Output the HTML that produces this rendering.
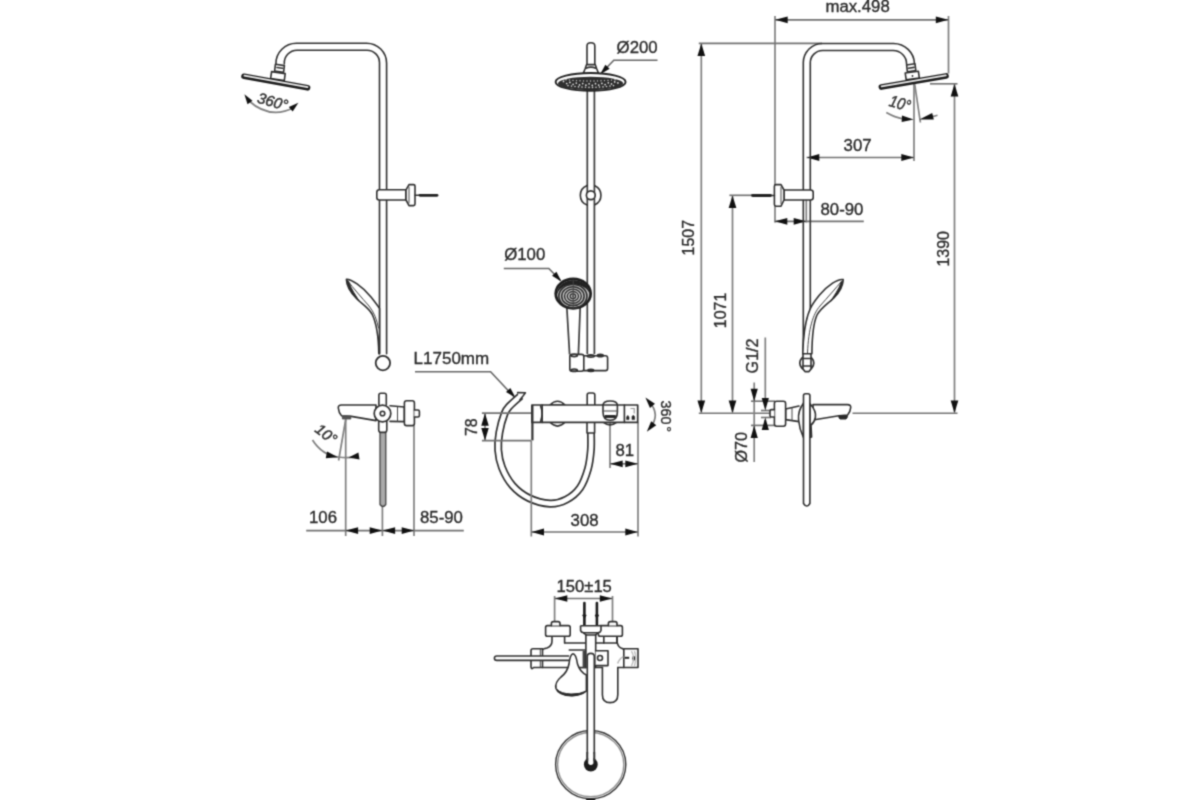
<!DOCTYPE html>
<html lang="en"><head><meta charset="utf-8"><title>Shower system dimensions</title>
<style>
html,body{margin:0;padding:0;background:#fff;}
body{width:1200px;height:800px;overflow:hidden;}
svg{display:block;}
.o{fill:none;stroke:#303030;stroke-width:1.6;stroke-linecap:round;stroke-linejoin:round;}
.w{fill:#fff;stroke:#303030;stroke-width:1.6;stroke-linecap:round;stroke-linejoin:round;}
.k{fill:#2a2a2a;stroke:#2a2a2a;stroke-width:1;stroke-linejoin:round;}
.g{fill:#aaa;stroke:#444;stroke-width:1.3;stroke-linejoin:round;}
.n{fill:none;stroke:#444;stroke-width:1;stroke-linecap:round;}
.d{fill:none;stroke:#808080;stroke-width:1.7;}
.h{fill:none;stroke:#727272;stroke-width:1.65;}
.l{fill:none;stroke:#666;stroke-width:1.6;}
.a{fill:#111;stroke:none;}
.t{font-family:"Liberation Sans",Arial,sans-serif;font-size:16.8px;fill:#2a2a2a;stroke:#2a2a2a;stroke-width:0.35px;}
.i{font-family:"Liberation Sans",Arial,sans-serif;font-size:15px;font-style:italic;fill:#333;stroke:#333;stroke-width:0.5px;}
</style></head>
<body>
<svg width="1200" height="800" viewBox="0 0 1200 800">
<defs><filter id="soft" x="0" y="0" width="1200" height="800" filterUnits="userSpaceOnUse" color-interpolation-filters="sRGB"><feConvolveMatrix order="3" kernelMatrix="0.0361 0.1178 0.0361 0.1178 0.3844 0.1178 0.0361 0.1178 0.0361" divisor="1" edgeMode="duplicate" preserveAlpha="false"/></filter></defs>
<rect width="1200" height="800" fill="#fff"/>
<g filter="url(#soft)">
<g id="view-left">
<path class="o" d="M386.6 353.8 V63.2 A20 20 0 0 0 366.6 43.2 H296.5 A20.5 20.5 0 0 0 275.9 63.9" />
<path class="o" d="M379.5 353.8 V62.7 A12.5 12.5 0 0 0 367 50.2 H297 A12.8 12.8 0 0 0 284.3 63.9" />
<path class="w" d="M275.4 64.3 L284.4 65.6 L283.6 72.2 L274.6 71 Z" />
<path class="o" d="M277 67.5 L282.5 68.3" />
<path class="w" d="M271.6 71.6 L285.2 73.6 L284.3 80.6 L270.6 78.6 Z" />
<g transform="rotate(10.3 241.5 76)"><rect x="241.2" y="73.0" width="70.2" height="5.6" rx="2.8" fill="#1c1c1c"/><rect x="243.4" y="74.3" width="66" height="1.7" rx="0.85" fill="#eee"/></g>
<path class="d" d="M248.5 100.5 Q270 120 294 107.5" />
<polygon class="a" points="244.40,94.20 252.48,100.81 247.50,104.17"/>
<polygon class="a" points="298.40,102.80 292.67,111.53 288.81,106.93"/>
<text class="i" x="0" y="0" text-anchor="start" transform="translate(256.4 102.6) rotate(15) scale(1 1)" >360°</text>
<path class="w" d="M379.4 189.8 H406 V200 H379.4 Q376.8 200 376.8 197.5 V192.3 Q376.8 189.8 379.4 189.8 Z" />
<path class="w" d="M406 189.8 L409 184.6 H413.5 Q415 184.6 415 186 V204 Q415 205.6 413.5 205.6 H409 L406 200 Z" />
<path class="n" d="M409 187 V203" />
<line class="o" x1="415" y1="195.3" x2="423" y2="195.3"/>
<line x1="420" y1="195.3" x2="437" y2="195.3" stroke="#222" stroke-width="2.8" stroke-linecap="round"/>
<path class="w" d="M346.4 279.4 C351 279 362 286 371 297 C375 302 378 306 379.5 308.5 L379.5 353.8 L378.8 353.8 C378.6 340 377.5 325 372 314 C368 307 362 304 357 299 C351 293 346.5 285 346.4 279.4 Z" />
<path class="n" d="M347.5 280.5 C353 288 362 298 369 306 C374 312 377 320 378.5 328" />
<path class="k" d="M346.8 281 C348 288 353 296 359.5 301.5 C356 296 351 289 348.5 281.5 Z" />
<circle class="w" cx="382.9" cy="363.1" r="7.2" style="stroke-width:1.8"/>
</g>
<g id="mixer-left">
<line class="d" x1="345.7" y1="419" x2="345.7" y2="536"/>
<line class="d" x1="414.0" y1="425.6" x2="414.0" y2="536"/>
<line class="d" x1="382.4" y1="507" x2="382.4" y2="536"/>
<line class="h" x1="306.2" y1="530.6" x2="463.8" y2="530.6"/>
<polygon class="a" points="345.60,530.60 358.10,527.20 358.10,534.00"/>
<polygon class="a" points="382.20,530.60 369.70,534.00 369.70,527.20"/>
<polygon class="a" points="382.60,530.60 395.10,527.20 395.10,534.00"/>
<polygon class="a" points="414.20,530.60 401.70,534.00 401.70,527.20"/>
<text class="t" x="0" y="0" text-anchor="start" transform="translate(309 523.1) rotate(0) scale(1 1)" >106</text>
<text class="t" x="0" y="0" text-anchor="start" transform="translate(420 523.1) rotate(0) scale(1 1)" >85-90</text>
<path class="g" d="M380.0 432.5 V504.5 Q382.9 508.5 385.8 504.5 V432.5 Z" />
<path class="w" d="M378.9 405 V395 Q378.9 393.2 380.8 393.2 H384.4 Q386.3 393.2 386.3 395 V405" />
<path class="w" d="M378.7 421 V430 Q378.7 432.3 380.9 432.3 H384.6 Q386.8 432.3 386.8 430 V421" />
<path class="w" d="M390 405.8 L404.4 407 V421.6 L390 421.4" />
<path class="n" d="M397.5 407 V421.4" />
<rect class="w" x="404.4" y="400.8" width="10" height="24.8" rx="2.2"/>
<path class="w" d="M414.4 410 H418 Q419.4 410 419.4 411.4 V415.6 Q419.4 417 418 417 H414.4" />
<path class="w" d="M376 405 H341.5 Q338 405 338.3 408 Q338.8 413 341.5 415.7 L351.3 416.4 L376 420.6 Z" />
<path d="M342.4 416 H350.8 V419 H342.4 Z" fill="#555" stroke="#444" stroke-width="0.8"/>
<circle class="w" cx="382.5" cy="413.5" r="8.3" style="stroke-width:1.7"/>
<circle class="o" cx="382.5" cy="413.5" r="2.3"/>
<line class="d" x1="345.7" y1="419.5" x2="338.6" y2="460.5"/>
<path class="d" d="M312.5 440 Q322 455 338 457 Q349 458.5 357 456.5" />
<polygon class="a" points="338.00,457.20 325.77,458.29 327.07,451.61"/>
<polygon class="a" points="348.60,457.60 358.42,452.50 359.52,459.41"/>
<text class="i" x="0" y="0" text-anchor="start" style="font-size:15px" transform="translate(314 431) rotate(38) scale(1 1)" >10°</text>
</g>
<g id="view-mid">
<path d="M587.3 66 V354 M594.4 66 V354" fill="none" stroke="#3c3c3c" stroke-width="1.7"/>
<path class="w" d="M587.0 66 V46 Q587.0 42.8 590.9 42.8 Q594.8 42.8 594.8 46 V66" />
<path class="w" d="M586.6 64.6 H595.2 L596.6 68.5 L598.6 73.5 H583.2 L585.2 68.5 Z" />
<path class="o" d="M586 68.2 Q590.9 66 595.8 68.2" />
<ellipse cx="590.6" cy="81.9" rx="35" ry="8.9" fill="#fff" stroke="#222" stroke-width="1.9"/>
<ellipse cx="590.6" cy="83.4" rx="32.6" ry="6.6" fill="#2e2e2e"/>
<g fill="#e8e8e8"><circle cx="563.5" cy="81.4" r="0.85"/><circle cx="566.7" cy="83.5" r="0.85"/><circle cx="569.9" cy="82.4" r="0.85"/><circle cx="573.1" cy="84.3" r="0.85"/><circle cx="576.3" cy="83.1" r="0.85"/><circle cx="579.5" cy="84.9" r="0.85"/><circle cx="582.7" cy="83.6" r="0.85"/><circle cx="585.9" cy="85.2" r="0.85"/><circle cx="589.1" cy="83.8" r="0.85"/><circle cx="592.3" cy="85.3" r="0.85"/><circle cx="595.5" cy="83.7" r="0.85"/><circle cx="598.7" cy="85.1" r="0.85"/><circle cx="601.9" cy="83.4" r="0.85"/><circle cx="605.1" cy="84.6" r="0.85"/><circle cx="608.3" cy="82.8" r="0.85"/><circle cx="611.5" cy="83.9" r="0.85"/><circle cx="614.7" cy="81.9" r="0.85"/><circle cx="617.9" cy="82.9" r="0.85"/></g>
<g fill="#d8d8d8"><circle cx="568.0" cy="85.6" r="0.8"/><circle cx="571.5" cy="86.1" r="0.8"/><circle cx="575.0" cy="86.5" r="0.8"/><circle cx="578.5" cy="86.9" r="0.8"/><circle cx="582.0" cy="87.1" r="0.8"/><circle cx="585.5" cy="87.3" r="0.8"/><circle cx="589.0" cy="87.4" r="0.8"/><circle cx="592.5" cy="87.4" r="0.8"/><circle cx="596.0" cy="87.3" r="0.8"/><circle cx="599.5" cy="87.1" r="0.8"/><circle cx="603.0" cy="86.9" r="0.8"/><circle cx="606.5" cy="86.5" r="0.8"/><circle cx="610.0" cy="86.1" r="0.8"/><circle cx="613.5" cy="85.6" r="0.8"/></g>
<g fill="#d8d8d8"><circle cx="566.0" cy="79.8" r="0.7"/><circle cx="569.5" cy="80.1" r="0.7"/><circle cx="573.0" cy="80.4" r="0.7"/><circle cx="576.5" cy="80.6" r="0.7"/><circle cx="580.0" cy="80.8" r="0.7"/><circle cx="583.5" cy="80.9" r="0.7"/><circle cx="587.0" cy="81.0" r="0.7"/><circle cx="590.5" cy="81.0" r="0.7"/><circle cx="594.0" cy="81.0" r="0.7"/><circle cx="597.5" cy="80.9" r="0.7"/><circle cx="601.0" cy="80.8" r="0.7"/><circle cx="604.5" cy="80.6" r="0.7"/><circle cx="608.0" cy="80.4" r="0.7"/><circle cx="611.5" cy="80.1" r="0.7"/><circle cx="615.0" cy="79.8" r="0.7"/></g>
<path class="l" d="M657.5 60.3 H613.8 L601 73.5" />
<polygon class="a" points="600.20,74.30 605.34,64.66 609.65,68.83"/>
<text class="t" x="0" y="0" text-anchor="start" transform="translate(616.6 52.8) rotate(0) scale(1 1)" >Ø200</text>
<path class="o" d="M587.2 185.4 A10.5 10.5 0 0 0 587.2 205.1" />
<path class="o" d="M594.8 185.7 A10.5 10.5 0 0 1 594.8 204.8" />
<circle class="w" cx="590.8" cy="195.3" r="4.4" style="stroke-width:1.7"/>
<path d="M566.8 307 L569.6 354.4 M580.2 307 L578.4 354.4" fill="none" stroke="#3c3c3c" stroke-width="1.7"/>
<ellipse cx="573.2" cy="293.6" rx="17.5" ry="14.7" fill="#c4c4c4" stroke="#1e1e1e" stroke-width="2.7"/>
<path d="M556.5 296 Q557 281.5 573.2 280 Q589 281 590 295 Q587 285 573 284.5 Q559 285 556.5 296 Z" fill="#222"/>
<ellipse cx="572.9" cy="296.2" rx="14" ry="11.76" fill="none" stroke="#2a2a2a" stroke-width="1.6"/>
<ellipse cx="572.9" cy="296.2" rx="11.2" ry="9.41" fill="none" stroke="#2a2a2a" stroke-width="1.5"/>
<ellipse cx="572.9" cy="296.2" rx="8.4" ry="7.06" fill="none" stroke="#2a2a2a" stroke-width="1.4"/>
<ellipse cx="572.9" cy="296.2" rx="5.6" ry="4.70" fill="none" stroke="#2a2a2a" stroke-width="1.3"/>
<ellipse cx="572.9" cy="296.2" rx="2.8" ry="2.35" fill="none" stroke="#2a2a2a" stroke-width="1.2"/>
<circle cx="572.9" cy="296.2" r="0.9" fill="#444"/>
<line class="n" x1="573.2" y1="280" x2="573.2" y2="308"/>
<path class="l" d="M503.8 268.5 H548.8 L560.5 280.5" />
<polygon class="a" points="561.40,281.40 552.04,275.77 556.43,271.67"/>
<text class="t" x="0" y="0" text-anchor="start" transform="translate(504.2 260.2) rotate(0) scale(1 1)" >Ø100</text>
<path class="w" d="M569.8 356.5 Q569.8 354.4 572 354.4 H581.5 Q583.8 354.4 583.8 356.5 V369 Q583.8 371.2 581.5 371.2 H572 Q569.8 371.2 569.8 369 Z" />
<path class="w" d="M583.8 355.8 H605.5 Q607.6 355.8 607.6 358 V368.4 Q607.6 370.6 605.5 370.6 H583.8 Z" />
<ellipse cx="574.2" cy="355.5" rx="3.2" ry="1.2" class="o"/>
<ellipse cx="574.2" cy="370.2" rx="3.2" ry="1.2" class="o"/>
<ellipse cx="590.8" cy="370.4" rx="3.6" ry="1.4" class="k"/>
<ellipse cx="590.8" cy="356" rx="3.6" ry="1.2" class="o"/>
<ellipse cx="600.3" cy="355.6" rx="3" ry="1.2" class="o"/>
</g>
<g id="mixer-front">
<path class="l" d="M415 371.8 H490.6 L514 396.8" />
<polygon class="a" points="515.40,397.60 506.00,392.05 510.35,387.92"/>
<text class="t" x="0" y="0" text-anchor="start" style="font-size:17px" transform="translate(413.6 364.2) rotate(0) scale(1 1)" >L1750mm</text>
<path d="M520.5 396.0 C518.72 397.63 512.45 402.88 509.8 405.8 C507.15 408.72 506.33 409.05 504.6 413.5 C502.87 417.95 500.47 426.42 499.4 432.5 C498.33 438.58 497.77 444.17 498.2 450 C498.63 455.83 499.62 461.58 502 467.5 C504.38 473.42 508.03 480.42 512.5 485.5 C516.97 490.58 522.55 494.98 528.8 498 C535.05 501.02 543.75 503.33 550 503.6 C556.25 503.87 561.30 502.23 566.3 499.6 C571.30 496.97 576.38 492.93 580 487.8 C583.62 482.67 586.18 475.10 588 468.8 C589.82 462.50 590.40 456.00 590.9 450 C591.40 444.00 590.98 435.67 591 432.8" fill="none" stroke="#303030" stroke-width="8.1" stroke-linecap="butt"/>
<path d="M520.5 396.0 C518.72 397.63 512.45 402.88 509.8 405.8 C507.15 408.72 506.33 409.05 504.6 413.5 C502.87 417.95 500.47 426.42 499.4 432.5 C498.33 438.58 497.77 444.17 498.2 450 C498.63 455.83 499.62 461.58 502 467.5 C504.38 473.42 508.03 480.42 512.5 485.5 C516.97 490.58 522.55 494.98 528.8 498 C535.05 501.02 543.75 503.33 550 503.6 C556.25 503.87 561.30 502.23 566.3 499.6 C571.30 496.97 576.38 492.93 580 487.8 C583.62 482.67 586.18 475.10 588 468.8 C589.82 462.50 590.40 456.00 590.9 450 C591.40 444.00 590.98 435.67 591 432.8" fill="none" stroke="#fff" stroke-width="4.7" stroke-linecap="butt"/>
<path class="w" d="M517.6 392.6 L525.4 392.8 L522.6 396.6 L520 399.8" />
<line class="d" x1="531.3" y1="440.6" x2="531.3" y2="536.5"/>
<line class="d" x1="638" y1="422.5" x2="638" y2="536.5"/>
<line class="d" x1="610" y1="418" x2="610" y2="468"/>
<line class="h" x1="531.3" y1="532" x2="638" y2="532"/>
<polygon class="a" points="531.50,532.00 544.00,528.60 544.00,535.40"/>
<polygon class="a" points="637.80,532.00 625.30,535.40 625.30,528.60"/>
<text class="t" x="0" y="0" text-anchor="start" transform="translate(570.6 525.6) rotate(0) scale(1 1)" >308</text>
<line class="h" x1="610" y1="463.8" x2="638" y2="463.8"/>
<polygon class="a" points="610.20,463.80 622.70,460.40 622.70,467.20"/>
<polygon class="a" points="637.80,463.80 625.30,467.20 625.30,460.40"/>
<text class="t" x="0" y="0" text-anchor="start" transform="translate(615.4 456.0) rotate(0) scale(1 1)" >81</text>
<line class="h" x1="481.9" y1="413.1" x2="531" y2="413.1"/>
<line class="h" x1="481.9" y1="440.6" x2="531" y2="440.6"/>
<line class="d" x1="485" y1="413" x2="485" y2="440.6"/>
<polygon class="a" points="485.00,413.30 488.75,425.80 481.25,425.80"/>
<polygon class="a" points="485.00,440.40 481.25,427.90 488.75,427.90"/>
<text class="t" x="0" y="0" text-anchor="start" transform="translate(476.8 436.0) rotate(-90) scale(0.95 1)" >78</text>
<path class="w" d="M550 405 Q557.5 397.5 565 405 Z" />
<path class="w" d="M550 422.3 Q557.5 429.8 565 422.3 Z" />
<path class="w" d="M587.2 405 V395 Q587.2 393 589.2 393 H592.8 Q594.8 393 594.8 395 V405" />
<path class="w" d="M587 422.4 V433 H594.6 V422.4" />
<path class="w" d="M603 405.5 Q603 401 610.2 401 Q617.4 401 617.4 405.5" />
<path class="o" d="M603.5 422.3 Q610 427.5 616.5 422.3" />
<rect class="w" x="531.9" y="405" width="105.8" height="17.4" style="stroke-width:1.7"/>
<path class="o" d="M542.2 405 V422.4 M624.4 405 V422.4" />
<path class="o" d="M540.6 406 Q543.5 413.5 540.6 421.5" />
<line x1="532.4" y1="405" x2="532.4" y2="440.4" stroke="#333" stroke-width="2.2"/>
<path class="o" d="M603 405 V412 Q603 420.3 610.2 420.3 Q617.4 420.3 617.4 412 V405" />
<path class="k" d="M605 417.5 H615.4 V415.5 H605 Z" />
<path class="n" d="M603 411 H617.4" />
<path d="M630.5 408.5 H634.2 V413.5" fill="none" stroke="#999" stroke-width="1.2"/><path d="M626.6 419.6 V417 l1.2 -1.6 l1.2 1.6 V419.6 Z M632 419.6 V416.6 l1.3 -1.4 l1.3 1.4 V419.6 Z" fill="#222" stroke="#222" stroke-width="0.6"/>
<path class="d" d="M649 401.5 Q661 414.5 650 428" />
<polygon class="a" points="645.40,397.40 654.96,403.74 649.98,407.92"/>
<polygon class="a" points="646.80,431.80 651.20,421.21 656.25,425.30"/>
<text class="t" x="0" y="0" text-anchor="start" style="font-size:14.4px" transform="translate(661.2 400.6) rotate(90) scale(1 1.05)" >360<tspan dx="1.6">°</tspan></text>
</g>
<g id="view-right">
<line class="d" x1="775" y1="16" x2="775" y2="222.5"/>
<line class="d" x1="948.5" y1="16" x2="948.5" y2="73.5"/>
<line class="h" x1="775" y1="19.8" x2="948.5" y2="19.8"/>
<polygon class="a" points="775.20,19.80 787.70,16.40 787.70,23.20"/>
<polygon class="a" points="948.30,19.80 935.80,23.20 935.80,16.40"/>
<text class="t" x="0" y="0" text-anchor="start" transform="translate(825.4 12) rotate(0) scale(1 1)" >max.498</text>
<line class="h" x1="698.8" y1="43.4" x2="822" y2="43.4"/>
<line class="d" x1="701.3" y1="43.5" x2="701.3" y2="412.5"/>
<polygon class="a" points="701.30,43.60 705.15,56.10 697.45,56.10"/>
<polygon class="a" points="701.30,413.10 697.45,400.60 705.15,400.60"/>
<text class="t" x="0" y="0" text-anchor="start" transform="translate(694.4 255.4) rotate(-90) scale(0.95 1)" >1507</text>
<line class="h" x1="729.4" y1="195.3" x2="752" y2="195.3"/>
<line class="d" x1="732.5" y1="195.3" x2="732.5" y2="412.5"/>
<polygon class="a" points="732.50,195.50 736.35,208.00 728.65,208.00"/>
<polygon class="a" points="732.50,413.10 728.65,400.60 736.35,400.60"/>
<text class="t" x="0" y="0" text-anchor="start" transform="translate(726.0 328.2) rotate(-90) scale(0.95 1)" >1071</text>
<line class="h" x1="930" y1="83.8" x2="957.5" y2="83.8"/>
<line class="d" x1="954.5" y1="83.8" x2="954.5" y2="412.5"/>
<polygon class="a" points="954.50,84.00 958.35,96.50 950.65,96.50"/>
<polygon class="a" points="954.50,413.10 950.65,400.60 958.35,400.60"/>
<text class="t" x="0" y="0" text-anchor="start" transform="translate(948.8 266.6) rotate(-90) scale(0.95 1)" >1390</text>
<line class="h" x1="698.8" y1="413.2" x2="772.5" y2="413.2"/>
<line class="h" x1="852.5" y1="413.2" x2="957.5" y2="413.2"/>
<line class="d" x1="914" y1="78" x2="914" y2="161"/>
<line class="h" x1="806.6" y1="157.5" x2="914" y2="157.5"/>
<polygon class="a" points="806.80,157.50 819.30,154.10 819.30,160.90"/>
<polygon class="a" points="913.80,157.50 901.30,160.90 901.30,154.10"/>
<text class="t" x="0" y="0" text-anchor="start" transform="translate(843.6 150.6) rotate(0) scale(1 1)" >307</text>
<line class="d" x1="806.3" y1="200" x2="806.3" y2="222.5"/>
<line class="h" x1="774.6" y1="221.3" x2="863.8" y2="221.3"/>
<polygon class="a" points="774.80,221.30 787.30,217.90 787.30,224.70"/>
<polygon class="a" points="806.20,221.30 793.70,224.70 793.70,217.90"/>
<text class="t" x="0" y="0" text-anchor="start" transform="translate(820.5 215.1) rotate(0) scale(1 1)" >80-90</text>
<line class="d" x1="914.1" y1="80" x2="920.4" y2="122.5"/>
<path class="d" d="M886.3 112.5 Q895 117.5 903 118.8 M932 116.6 Q935 116 937.5 115.2" />
<polygon class="a" points="913.60,119.40 901.64,122.08 901.99,115.49"/>
<polygon class="a" points="919.40,119.60 932.16,112.91 933.81,119.51"/>
<text class="i" x="0" y="0" text-anchor="start" style="font-size:16.5px" transform="translate(888.2 105.8) rotate(16) scale(0.86 1)" >10°</text>
<line class="d" x1="765.3" y1="337.5" x2="765.3" y2="400"/>
<line class="d" x1="765.3" y1="420" x2="765.3" y2="428"/>
<line class="d" x1="754.2" y1="382.5" x2="754.2" y2="462"/>
<line class="h" x1="751" y1="401.2" x2="775" y2="401.2"/>
<line class="h" x1="751" y1="425.4" x2="775" y2="425.4"/>
<line class="h" x1="761" y1="410.5" x2="771" y2="410.5"/>
<line class="h" x1="761" y1="417.5" x2="771" y2="417.5"/>
<polygon class="a" points="765.30,410.60 761.70,398.10 768.90,398.10"/>
<polygon class="a" points="765.30,417.40 768.90,429.90 761.70,429.90"/>
<polygon class="a" points="754.20,401.20 750.60,388.70 757.80,388.70"/>
<polygon class="a" points="754.20,425.40 757.80,437.90 750.60,437.90"/>
<text class="t" x="0" y="0" text-anchor="start" transform="translate(758.2 373.4) rotate(-90) scale(0.96 1)" >G1/2</text>
<text class="t" x="0" y="0" text-anchor="start" transform="translate(746.8 462.6) rotate(-90) scale(0.96 1)" >Ø70</text>
<path class="o" d="M803.3 354 V62.5 A19.3 19.3 0 0 1 822.6 43.5 H893.5 A21 21 0 0 1 914.5 63.8" />
<path class="o" d="M810.3 354 V62.8 A12.3 12.3 0 0 1 822.6 50.5 H893 A13.5 13.5 0 0 1 906.6 64.2" />
<path class="w" d="M906.6 65 L915 63.8 L915.8 70.6 L907.4 71.8 Z" />
<path class="o" d="M908.5 68.2 L914 67.4" />
<path class="w" d="M905.2 73 L918.4 71.2 L919.3 78 L906.2 79.9 Z" />
<circle cx="912.5" cy="76" r="0.9" fill="#222"/>
<g transform="rotate(-9.8 948.6 75.6)"><rect x="877.6" y="72.7" width="71.2" height="5.6" rx="2.8" fill="#1c1c1c"/><rect x="879.8" y="74.0" width="67" height="1.7" rx="0.85" fill="#eee"/></g>
<path class="w" d="M810.6 190 H784 V200 H810.6 Q813.2 200 813.2 197.6 V192.4 Q813.2 190 810.6 190 Z" />
<path class="w" d="M784 190 L781 184.6 H776 Q774.4 184.6 774.4 186.2 V204.6 Q774.4 206.2 776 206.2 H781 L784 200 Z" />
<path class="n" d="M781 187 V203.6" />
<line class="o" x1="766" y1="195.5" x2="774.4" y2="195.5"/>
<line x1="752.5" y1="195.5" x2="770.5" y2="195.5" stroke="#222" stroke-width="2.8" stroke-linecap="round"/>
<path class="w" d="M843.2 279.6 C838 278.5 828 285 819.5 295 C815 300.5 811.5 306 810.4 308.5 C806 318 803.2 335 802.8 353.8 L811.9 353.8 C812 340 812.5 325 817 315 C820 309 826 305 832 299.5 C838 294 843 286 843.2 279.6 Z" />
<path class="n" d="M842 280.8 C836 288 827 298 820 306 C813 314 808.6 328 807.5 353" />
<path class="k" d="M842.8 281.4 C842 288 837 296 830.5 301.6 C834 296 839 289 841.3 282 Z" />
<circle class="w" cx="806.8" cy="363.1" r="7" style="stroke-width:1.7"/>
<path class="w" d="M803 353.8 H811 V369 L809 371.6 H805 L803 369 Z" />
<path class="o" d="M803 358.5 H811 M803 366 H811" />
</g>
<g id="mixer-right">
<path class="w" d="M813 404.6 H847.5 Q851 404.6 850.7 407.6 Q850.3 412 847.6 415 L838.8 415.8 L813 420 Z" />
<path class="k" d="M838.8 415.6 H847.4 Q847.6 418 846 419 H840 Q838.6 418 838.8 415.6 Z" />
<path class="w" d="M799 406 L785.6 409 V419.6 L799 421.6" />
<path class="n" d="M792 407.8 V420.4" />
<rect class="w" x="774.4" y="401.3" width="11.2" height="25" rx="2.2"/>
<path class="w" d="M774.4 409.6 H771.4 Q770 409.6 770 411 V415.6 Q770 417 771.4 417 H774.4" />
<path class="w" d="M803.6 403 Q797.6 411 798.6 420 Q799.4 429 803.4 437.5 Z" />
<path class="w" d="M809.8 403.5 Q816.6 411 815.4 417.5 Q814.4 422.5 811 425 L811.6 437 L809.8 437.5 Z" />
<path class="w" d="M803.5 395.6 Q803.5 393.7 805.4 393.7 H808 Q809.9 393.7 809.9 395.6 V503.5 Q806.7 508.6 803.5 503.5 Z" />
</g>
<g id="view-bottom">
<line class="d" x1="554.6" y1="596" x2="554.6" y2="621"/>
<line class="d" x1="612.5" y1="596" x2="612.5" y2="621"/>
<line class="h" x1="554.6" y1="598.5" x2="612.5" y2="598.5"/>
<polygon class="a" points="554.80,598.50 567.30,595.25 567.30,601.75"/>
<polygon class="a" points="612.30,598.50 599.80,601.75 599.80,595.25"/>
<text class="t" x="0" y="0" text-anchor="start" style="font-size:16.6px" transform="translate(556.6 592.0) rotate(0) scale(1 1)" >150±15</text>
<path d="M584.4 603 V626 M596.9 603 V626" stroke="#1c1c1c" stroke-width="2.6" stroke-linecap="round" fill="none"/>
<path d="M582.6 615 h3.6 l-1.8 3.4 Z M595.1 615 h3.6 l-1.8 3.4 Z" fill="#1c1c1c" stroke="#1c1c1c" stroke-width="0.8"/>
<ellipse cx="590.7" cy="764.6" rx="35.1" ry="34.1" fill="#fff" stroke="#333" stroke-width="1.4"/>
<ellipse cx="590.7" cy="764.6" rx="33.1" ry="32.1" fill="none" stroke="#8a8a8a" stroke-width="1.3"/>
<path class="o" d="M565 643 H617 M542.5 667.5 H602.5 M617.8 667.5 H624" />
<path class="o" d="M552 636 V641 Q552 646 547 648 Q542.5 649 542.5 650" />
<path class="o" d="M617 636 V641 Q617.5 646.5 621 648 Q623.8 648.8 623.8 650" />
<path class="o" d="M552 636.2 H564.6 V643 M603.8 636.2 V643 M617 636.2 V643" />
<rect class="w" x="545.6" y="625.6" width="24.6" height="10.6" rx="1.8"/>
<rect class="w" x="598.4" y="625.6" width="24" height="10.6" rx="1.8"/>
<path class="w" d="M551.4 625.6 V623.4 Q551.4 621.6 553.4 621.6 H558 Q560 621.6 560 623.4 V625.6" />
<path class="w" d="M608.4 625.6 V623.4 Q608.4 621.6 610.4 621.6 H615 Q617 621.6 617 623.4 V625.6" />
<path class="w" d="M531 650.5 Q531 648.8 533 648.8 H542.5 V667.5 H533.5 Q531.5 670 531 667 Z" />
<path class="n" d="M540.3 649 V667.3" />
<path class="w" d="M569 656.0 H496.8 Q494.4 656.0 494.4 658.2 Q494.4 660.4 496.8 660.4 H569" />
<path class="w" d="M569.3 650 H586 V667.5 H569.3" />
<rect x="582.6" y="651" width="3.4" height="16.5" fill="#444"/>
<path class="w" d="M623.8 648.8 H638 V667.5 H623.8 Z" />
<path d="M624.8 657.8 H629.2" stroke="#222" stroke-width="2" fill="none"/><ellipse cx="633.7" cy="658.2" rx="1.4" ry="2.5" fill="#111"/>
<path d="M631.5 651 Q635.5 658 631.5 666 M634.5 651 Q637 658 634.5 666" stroke="#bbb" stroke-width="1.4" fill="none"/>
<path d="M617.6 663.5 Q619.5 658.5 623.4 656.6" stroke="#bbb" stroke-width="1.6" fill="none"/>
<path class="w" d="M602.4 667.5 V694.7 Q602.4 702.6 610.1 702.6 Q617.8 702.6 617.8 694.7 V667.5" />
<rect x="586" y="634" width="9.6" height="33.5" fill="#fff"/>
<rect x="588" y="660" width="6" height="102" fill="#fff"/>
<path class="o" d="M585.9 634.5 V667.5 M595.7 634.5 V667.5" />
<path class="o" d="M587.3 762 V656.6 Q587.3 653.4 590.8 653.4 Q594.3 653.4 594.3 656.6 V762" />
<path class="w" d="M595.6 650.8 H608 V665.6 H595.6" />
<circle class="o" cx="600" cy="658" r="2.5"/>
<path class="w" d="M580.6 626.6 Q580 625.8 581.6 625.8 H600 Q601.4 625.8 601 627 V630.5 Q600.5 632.4 598 632.8 H583.6 Q581 632.4 580.6 630.5 Z" />
<path class="o" d="M583.6 632.8 L586 635 H595.6 L598 632.8" />
<path class="w" d="M586.4 675 Q580 672 577.5 664 Q576 654 573 653.8 Q570 654.5 569 664 Q567.5 672 561 677 Q554.5 682.5 556 688.5 Q558.5 695.5 572 695.8 Q581 695.5 586.4 691 Z" />
<path class="k" d="M557 689.5 Q560 695.6 572 695.8 Q581 695.5 586.4 691 Q580 694.2 571 694 Q561 693.6 557 689.5 Z" />
<circle cx="590.8" cy="764.5" r="6.9" fill="#1c1c1c"/>
<path d="M588.2 754 V763.6 Q590.8 766.6 593.4 763.6 V754 Z" fill="#fff"/>
<path d="M587.3 752 V761 M594.3 752 V761" fill="none" stroke="#333" stroke-width="1.8"/>
<ellipse cx="590.7" cy="800" rx="5" ry="1.5" fill="#222"/>
</g>
</g>
</svg>
</body></html>
